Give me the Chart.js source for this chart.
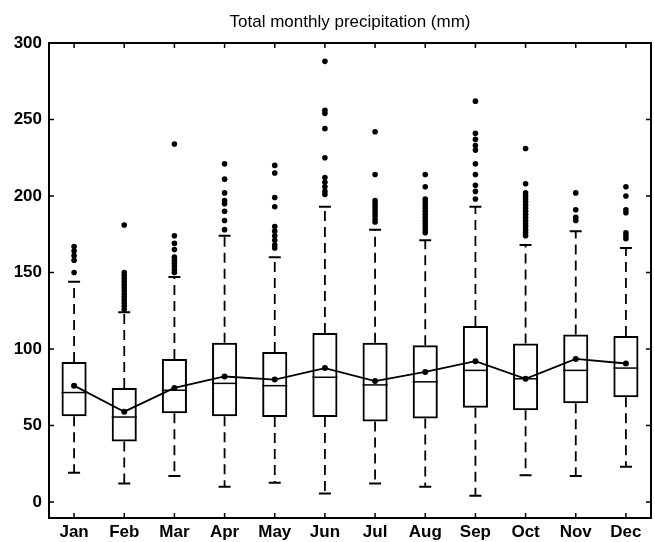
<!DOCTYPE html>
<html><head><meta charset="utf-8">
<script src="https://cdn.jsdelivr.net/npm/chart.js"></script>
<style>html,body{margin:0;padding:0;background:#fff}</style>
</head><body>
<canvas id="c" width="655" height="542"></canvas>
<script>
const months = ['Jan','Feb','Mar','Apr','May','Jun','Jul','Aug','Sep','Oct','Nov','Dec'];
const q1 = [56, 39.5, 58, 56, 55.5, 55.5, 52.5, 54.5, 61.5, 60, 64.5, 68.5];
const q3 = [91.5, 74.5, 93.5, 104, 98, 110.5, 104, 102.5, 115, 103.5, 109.5, 108.5];
const medians = [71.5, 55.5, 73, 77.5, 76, 81.5, 76.5, 78.5, 86, 80.5, 86, 87.5];
const means = [76, 59, 74.5, 82, 80, 87.5, 79, 85, 92, 80.5, 93.5, 90.5];
const whiskerLow = [19, 12, 17, 10, 12.5, 5.5, 12, 10, 4, 17.5, 17, 23];
const whiskerHigh = [144, 124, 147, 174, 160, 193, 178, 171, 193, 168, 177, 166];
const outliers = [
  [167, 164, 161, 158, 150],
  [181, 150, 148, 146, 144, 142, 140, 138, 136, 134, 132, 130, 128, 126],
  [234, 174, 169, 165, 160, 158, 156, 154, 152, 150],
  [221, 211, 202, 197, 195, 190, 184, 178],
  [220, 215, 199, 193, 180, 177, 174, 171, 168, 166],
  [288, 256, 254, 244, 225, 212, 209, 206, 203, 201],
  [242, 214, 197, 195, 193, 191, 189, 187, 185, 183],
  [214, 206, 198, 196, 194, 192, 190, 188, 186, 184, 182, 180, 178, 176],
  [262, 241, 237, 233, 230, 221, 214, 207, 203, 198],
  [231, 208, 202, 200, 198, 196, 194, 192, 190, 188, 186, 184, 182, 180, 178, 176, 174],
  [202, 191, 186, 184],
  [206, 200, 191, 189, 176, 174, 172]
];
const yTicks = [0, 50, 100, 150, 200, 250, 300];

const outlierPoints = [];
outliers.forEach((list, i) => list.forEach(v => outlierPoints.push({x: months[i], y: v})));

const boxExtras = {
  id: 'boxExtras',
  beforeDatasetsDraw(chart) {
    const {ctx, scales: {x, y}} = chart;
    const barMeta = chart.getDatasetMeta(2);
    ctx.save();
    ctx.strokeStyle = '#000';
    months.forEach((m, i) => {
      const cx = x.getPixelForValue(i);
      const half = barMeta.data[i] ? barMeta.data[i].width / 2 : 12.5;
      const cap = 6;
      ctx.lineWidth = 1.8;
      ctx.setLineDash([10, 6]);
      ctx.beginPath();
      ctx.moveTo(cx, y.getPixelForValue(q3[i]));
      ctx.lineTo(cx, y.getPixelForValue(whiskerHigh[i]));
      ctx.moveTo(cx, y.getPixelForValue(q1[i]));
      ctx.lineTo(cx, y.getPixelForValue(whiskerLow[i]));
      ctx.stroke();
      ctx.setLineDash([]);
      ctx.lineWidth = 2;
      ctx.beginPath();
      ctx.moveTo(cx - cap, y.getPixelForValue(whiskerHigh[i]));
      ctx.lineTo(cx + cap, y.getPixelForValue(whiskerHigh[i]));
      ctx.moveTo(cx - cap, y.getPixelForValue(whiskerLow[i]));
      ctx.lineTo(cx + cap, y.getPixelForValue(whiskerLow[i]));
      ctx.stroke();
      ctx.lineWidth = 1.5;
      ctx.beginPath();
      ctx.moveTo(cx - half, y.getPixelForValue(medians[i]));
      ctx.lineTo(cx + half, y.getPixelForValue(medians[i]));
      ctx.stroke();
    });
    ctx.restore();
  },
  afterDraw(chart) {
    const {ctx, chartArea: a, scales: {x, y}} = chart;
    ctx.save();
    ctx.strokeStyle = '#000';
    ctx.lineWidth = 2;
    ctx.strokeRect(a.left, a.top, a.right - a.left, a.bottom - a.top);
    ctx.lineWidth = 1.5;
    ctx.beginPath();
    y.ticks.forEach((t, i) => {
      const py = y.getPixelForTick(i);
      ctx.moveTo(a.left, py); ctx.lineTo(a.left + 5, py);
      ctx.moveTo(a.right, py); ctx.lineTo(a.right - 5, py);
    });
    x.ticks.forEach((t, i) => {
      const px = x.getPixelForTick(i);
      ctx.moveTo(px, a.bottom); ctx.lineTo(px, a.bottom - 5);
      ctx.moveTo(px, a.top); ctx.lineTo(px, a.top + 5);
    });
    ctx.stroke();
    ctx.restore();
  }
};

Chart.defaults.font.family = '"Liberation Sans", Arial, Helvetica, sans-serif';
Chart.defaults.color = '#000';

new Chart(document.getElementById('c'), {
  type: 'bar',
  data: {
    labels: months,
    datasets: [
      {
        type: 'line', label: 'Mean', data: means,
        borderColor: '#000', borderWidth: 1.8, tension: 0,
        pointRadius: 3, pointBackgroundColor: '#000', pointBorderWidth: 0, order: 1
      },
      {
        type: 'line', label: 'Outliers', data: outlierPoints, showLine: false,
        pointRadius: 2.8, pointBackgroundColor: '#000', pointBorderWidth: 0, order: 2
      },
      {
        type: 'bar', label: 'IQR', data: q1.map((v, i) => [v, q3[i]]),
        backgroundColor: 'rgba(255,255,255,0)', borderColor: '#000', borderWidth: 2,
        borderSkipped: false, barPercentage: 0.5, categoryPercentage: 1.0, order: 3
      }
    ]
  },
  options: {
    responsive: false,
    animation: false,
    layout: {padding: {left: 0, right: 4, top: 0, bottom: 0}},
    plugins: {
      legend: {display: false},
      tooltip: {enabled: false},
      title: {
        display: true, text: 'Total monthly precipitation (mm)', fullSize: false,
        font: {size: 17, weight: 'normal'}, color: '#000',
        padding: {top: 12, bottom: 10.6}
      }
    },
    scales: {
      x: {
        type: 'category', offset: true,
        grid: {display: false, drawTicks: false},
        border: {display: false},
        ticks: {font: {size: 17, weight: 'bold'}, padding: 4, color: '#000', maxRotation: 0},
        afterFit(s) { s.height = 24; }
      },
      y: {
        min: -10.5, max: 300,
        grid: {display: false, drawTicks: false},
        border: {display: false},
        ticks: {font: {size: 17, weight: 'bold'}, padding: 7, color: '#000', includeBounds: false, stepSize: 50},
        afterBuildTicks(s) { s.ticks = yTicks.map(v => ({value: v})); },
        afterFit(s) { s.width = 49; }
      }
    }
  },
  plugins: [boxExtras]
});
</script>
</body></html>
